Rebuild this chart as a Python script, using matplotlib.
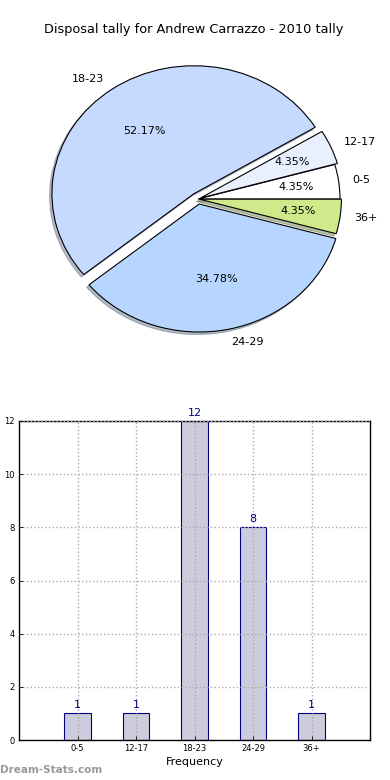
import matplotlib
matplotlib.use("Agg")
import matplotlib.pyplot as plt
import numpy as np

categories = ["0-5", "12-17", "18-23", "24-29", "36+"]
counts = [1, 1, 12, 8, 1]
pie_colors = ["#ffffff", "#e8f0ff", "#c6d9ff", "#b6d6ff", "#cfea8a"]
explode = [0.0, 0.02, 0.05, 0.04, 0.01]
title = "Disposal tally for Andrew Carrazzo - 2010 tally"
yticks = [0, 2, 4, 6, 8, 10, 12]

fig = plt.figure(figsize=(3.9, 7.8), dpi=100)

# ---- Pie ----
W, H = 390.0, 780.0
cx, cy = 198.0, 199.0
rx, ry = 142.0, 128.0
top_px, bot_px = 45.0, 355.0
axp = fig.add_axes([0, (H - bot_px) / H, 1, (bot_px - top_px) / H])
wedges, texts, autotexts = axp.pie(
    counts, labels=categories, colors=pie_colors, explode=explode,
    autopct="%1.2f%%", pctdistance=0.6, labeldistance=1.1,
    shadow=dict(ox=-0.012, oy=-0.014, shade=0.45),
    startangle=0, wedgeprops=dict(edgecolor="black", linewidth=0.8),
    textprops=dict(fontsize=8))
axp.set_aspect("auto")
axp.set_xlim(-cx / rx, (W - cx) / rx)
axp.set_ylim(-(bot_px - cy) / ry, (cy - top_px) / ry)
axp.axis("off")
total = sum(counts)
for w, t, at, v in zip(wedges, texts, autotexts, counts):
    ang = np.deg2rad((w.theta1 + w.theta2) / 2)
    c = w.center
    d = 0.6 if v / total > 0.2 else 0.7
    at.set_position((c[0] + d * np.cos(ang), c[1] + d * np.sin(ang)))
    at.set_ha("center")
    at.set_va("center")
    x = c[0] + 1.1 * np.cos(ang)
    y = c[1] + 1.1 * np.sin(ang)
    t.set_position((x, y))
    t.set_ha("left" if x > 0 else "right")
    t.set_va("center")

fig.text(194 / W, 1 - 30 / H, title, ha="center", va="center", fontsize=9.3)

# ---- Bar ----
axb = fig.add_axes([19 / W, 40 / H, 351 / W, 319 / H])
xpos = np.arange(len(categories))
bars = axb.bar(xpos, counts, width=0.45, color="#ccccdd", edgecolor="#000080",
               linewidth=0.8, zorder=2)
for x, v in zip(xpos, counts):
    axb.text(x, v + 0.12, str(v), ha="center", va="bottom", fontsize=8,
             color="#000080")
axb.set_xlim(-1, len(categories))
axb.set_ylim(0, 12)
axb.set_xticks(xpos)
axb.set_xticklabels(categories, fontsize=6)
axb.set_yticks(yticks)
axb.set_yticklabels([str(t) for t in yticks], fontsize=6)
axb.grid(True, linestyle=":", color="#aaaaaa", linewidth=1, zorder=3)
axb.set_axisbelow(False)
axb.tick_params(length=3, width=0.6, direction="in", pad=3)
axb.set_xlabel("Frequency", fontsize=8, labelpad=3)
axb.set_ylabel("Disposal tally", fontsize=8)
axb.yaxis.set_label_coords(-0.052, 0.5)
for s in axb.spines.values():
    s.set_linewidth(1.0)

fig.text(0, 1 - 770 / H, "Dream-Stats.com", ha="left", va="center",
         fontsize=7.5, color="#999999", fontweight="bold")

fig.savefig("out.png", dpi=100)
